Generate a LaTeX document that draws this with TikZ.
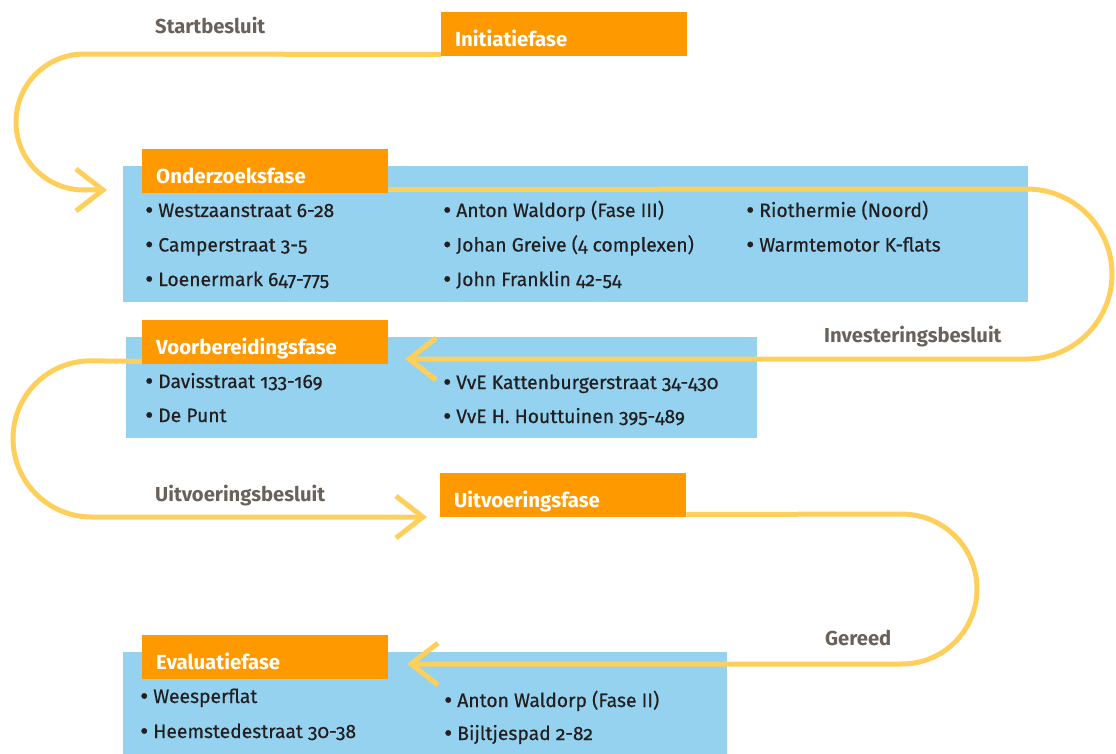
\documentclass[tikz,border=0pt]{standalone}
\usepackage{fontspec}
\setmainfont{Fira Sans}[Numbers=OldStyle]
\newfontfamily\itemfont{Fira Sans}[Numbers=OldStyle,FakeBold=0.5]
\usetikzlibrary{arrows.meta}
\definecolor{orng}{RGB}{255,153,0}
\definecolor{skyb}{RGB}{148,210,240}
\definecolor{flowc}{RGB}{255,207,92}
\definecolor{lblc}{RGB}{106,98,90}
\definecolor{txtc}{RGB}{35,31,32}
\pgfdeclarelayer{bglayer}
\pgfdeclarelayer{midlayer}
\pgfsetlayers{bglayer,midlayer,main}
\tikzset{
  phase/.style={fill=orng, text=white, anchor=north west, inner xsep=14pt, inner ysep=0pt,
    text width=218pt, align=left, text height=34pt, text depth=10pt,
    font=\bfseries\fontsize{20.4}{24}\selectfont},
  listbox/.style={fill=skyb, anchor=north west, inner sep=0pt},
  item/.style={anchor=base west, inner sep=0pt, text=txtc, font=\itemfont\fontsize{19.3}{23}\selectfont},
  decision/.style={anchor=base west, inner sep=0pt, text=lblc, font=\bfseries\fontsize{20.2}{24}\selectfont},
  flow/.style={draw=flowc, line width=5pt, -{Straight Barb[length=27pt,width=42pt]}}
}
\newcommand{\bul}{{\fontsize{25}{25}\selectfont\raisebox{-1.5pt}{\textbullet}}\hspace{5pt}}
\begin{document}
\begin{tikzpicture}[x=1pt,y=-1pt]
\useasboundingbox (0,0) rectangle (1116,754);
% blue list boxes
\begin{pgfonlayer}{bglayer}
\node[listbox, minimum width=905pt, minimum height=136pt] (ozbox) at (123,166) {};
\node[listbox, minimum width=631pt, minimum height=101pt] (vbbox) at (126,337) {};
\node[listbox, minimum width=604pt, minimum height=102pt] (evbox) at (123,652) {};
\end{pgfonlayer}
% arrow tip coordinates
\coordinate (oztip) at (107,190);
\coordinate (vbtip) at (405,359);
\coordinate (uvtip) at (427,517);
\coordinate (evtip) at (407,664);
% phase boxes
\node[phase] (init) at (441,12) {Initiatiefase};
\node[phase] (oz) at (142,149) {Onderzoeksfase};
\node[phase] (vb) at (142,320) {Voorbereidingsfase};
\node[phase] (uv) at (440,473) {Uitvoeringsfase};
\node[phase] (ev) at (142,635) {Evaluatiefase};
% flows
\begin{pgfonlayer}{midlayer}
\draw[flow, rounded corners=68pt] ([yshift=2pt]init.south west) -- (16,54) -- (16,190) -- (oztip);
\draw[flow, rounded corners=85pt] ([yshift=4pt]oz.south east) -- (1112,189) -- (1112,359) -- (vbtip);
\draw[flow, rounded corners=78.5pt] ([yshift=3pt]vb.south west) -- (13,360) -- (13,517) -- (uvtip);
\draw[flow, rounded corners=75pt] ([yshift=3pt]uv.south east) -- (977,514) -- (977,664) -- (evtip);
\end{pgfonlayer}
% decision labels
\node[decision] (l1) at (155,34) {Startbesluit};
\node[decision] (l2) at (824,342) {Investeringsbesluit};
\node[decision] (l3) at (155,501) {Uitvoeringsbesluit};
\node[decision] (l4) at (825,645) {Gereed};
% items
\node[item] (o1) at (145,217) {\bul Westzaanstraat 6-28};
\node[item] (o2) at (145,251.5) {\bul Camperstraat 3-5};
\node[item] (o3) at (145,286) {\bul Loenermark 647-775};
\node[item] (o4) at (443,217) {\bul Anton Waldorp (Fase III)};
\node[item] (o5) at (443,251.5) {\bul Johan Greive (4 complexen)};
\node[item] (o6) at (443,286) {\bul John Franklin 42-54};
\node[item] (o7) at (746,217) {\bul Riothermie (Noord)};
\node[item] (o8) at (746,251.5) {\bul Warmtemotor K-flats};
\node[item] (v1) at (145,388) {\bul Davisstraat 133-169};
\node[item] (v2) at (145,422) {\bul De Punt};
\node[item] (v3) at (443,389) {\bul VvE Kattenburgerstraat 34-430};
\node[item] (v4) at (443,423) {\bul VvE H. Houttuinen 395-489};
\node[item] (e1) at (140,703) {\bul Weesperflat};
\node[item] (e2) at (140,738) {\bul Heemstedestraat 30-38};
\node[item] (e3) at (444,707) {\bul Anton Waldorp (Fase II)};
\node[item] (e4) at (444,740) {\bul Bijltjespad 2-82};
\end{tikzpicture}
\end{document}
